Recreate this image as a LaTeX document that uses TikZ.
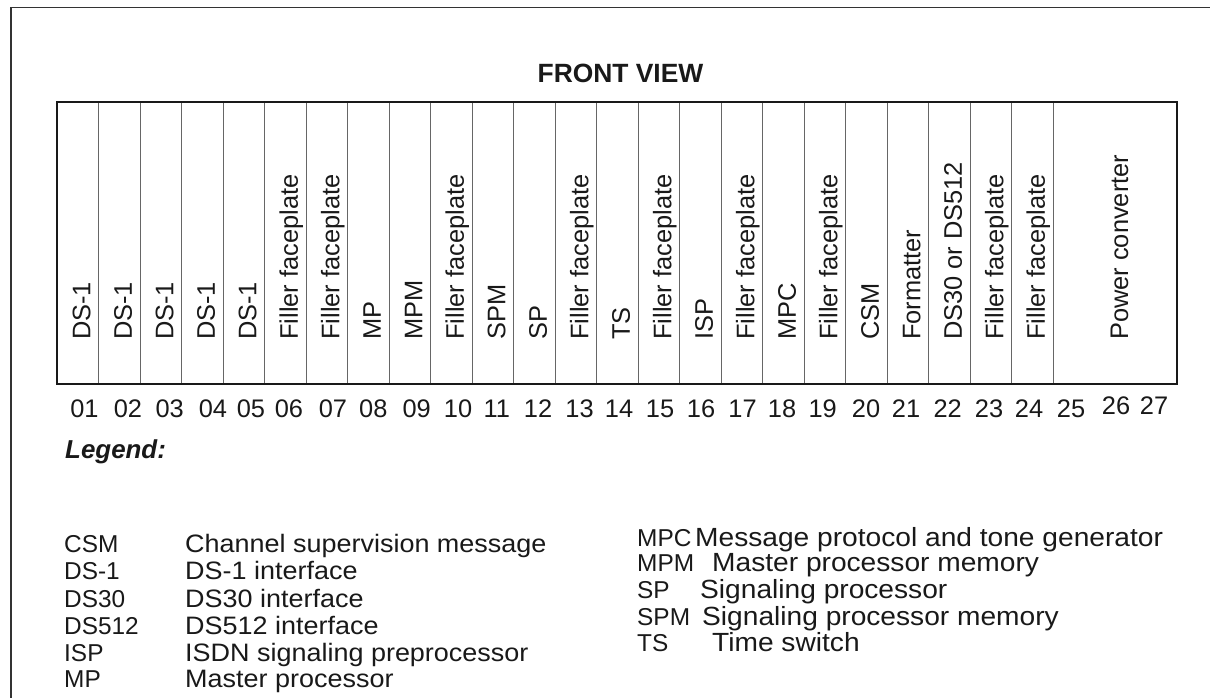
\documentclass[tikz,border=0pt]{standalone}
\usepackage{fontspec}
\setmainfont{Liberation Sans}
\newfontfamily\legendfont{Liberation Sans}[FakeStretch=1.07]
\usetikzlibrary{positioning}

\begin{document}
\begin{tikzpicture}[x=1bp,y=-1bp,
  frame/.style={draw=black!80,line width=1.2bp},
  shelf/.style={draw=black!90,line width=2bp},
  divider/.style={draw=black!60,line width=0.9bp},
  card/.style={rotate=90,anchor=base west,inner sep=0pt,text=black!90,font=\fontsize{25.5}{30}\selectfont},
  slotno/.style={anchor=base,inner sep=0pt,text=black!90,font=\fontsize{25.5}{30}\selectfont},
  key/.style={anchor=base west,inner sep=0pt,text=black!90,font=\fontsize{24.5}{30}\selectfont},
  meaning/.style={anchor=base west,inner sep=0pt,text=black!90,font=\legendfont\fontsize{25.3}{30}\selectfont}]

\useasboundingbox (0,0) rectangle (1210,698);

% outer frame (top and left edge only)
\draw[frame] (11,698) -- (11,7.5) -- (1210,7.5);

\node (title) [anchor=base,inner sep=0pt,text=black!90,font=\bfseries\fontsize{26.5}{30}\selectfont] at (620.5,83) {FRONT VIEW};

% shelf and slot dividers
\foreach \k in {1,...,24}
  \draw[divider] ({57+41.5*\k},102.5) -- ({57+41.5*\k},384);
\draw[shelf] (57,102.5) rectangle (1177,384);

% cards
\foreach \i/\txt in {1/DS-1,2/DS-1,3/DS-1,4/DS-1,5/DS-1,6/Filler faceplate,
    7/Filler faceplate,8/MP,9/MPM,10/Filler faceplate,11/SPM,12/SP,
    13/Filler faceplate,14/TS,15/Filler faceplate,16/ISP,17/Filler faceplate,
    18/MPC,19/Filler faceplate,20/CSM,21/Formatter,22/DS30 or DS512,
    23/Filler faceplate,24/Filler faceplate}
  \node (card\i) [card] at ({57+41.5*(\i-0.5)+12.5},340) {\txt};
\node (power) [card] at (1128,340) {Power converter};

% slot numbers
\foreach \n/\x in {01/84.5,02/128,03/169.7,04/213,05/251,06/289,07/333,
    08/373.3,09/416.7,10/458,11/496.7,12/538,13/579.5,14/619,15/660,
    16/701,17/742.5,18/782,19/822.7,20/866,21/906,22/947.7,23/989,
    24/1029,25/1071}
  \node (no\n) [slotno] at (\x,417) {\n};
\node (no26) [slotno] at (1116,414) {26};
\node (no27) [slotno] at (1154,414) {27};

% legend
\node (legend) [anchor=base west,inner sep=0pt,text=black!90,font=\bfseries\itshape\fontsize{26}{30}\selectfont] at (65,458) {Legend:};
\foreach \a/\d/\y in {CSM/Channel supervision message/552,
    DS-1/DS-1 interface/579,DS30/DS30 interface/607,
    DS512/DS512 interface/634,ISP/ISDN signaling preprocessor/661,
    MP/Master processor/687}{
  \node (key\a) [key] at (64,\y) {\a};
  \node (text\a) [meaning] at (185,\y) {\d};
}
\foreach \a/\d/\x/\y in {MPC/Message protocol and tone generator/695/546,
    MPM/Master processor memory/712/571,SP/Signaling processor/700/598,
    SPM/Signaling processor memory/702/625,TS/Time switch/712/651}{
  \node (key\a) [key] at (637,\y) {\a};
  \node (text\a) [meaning,font=\legendfont\fontsize{26.4}{30}\selectfont] at (\x,\y) {\d};
}
\end{tikzpicture}
\end{document}
